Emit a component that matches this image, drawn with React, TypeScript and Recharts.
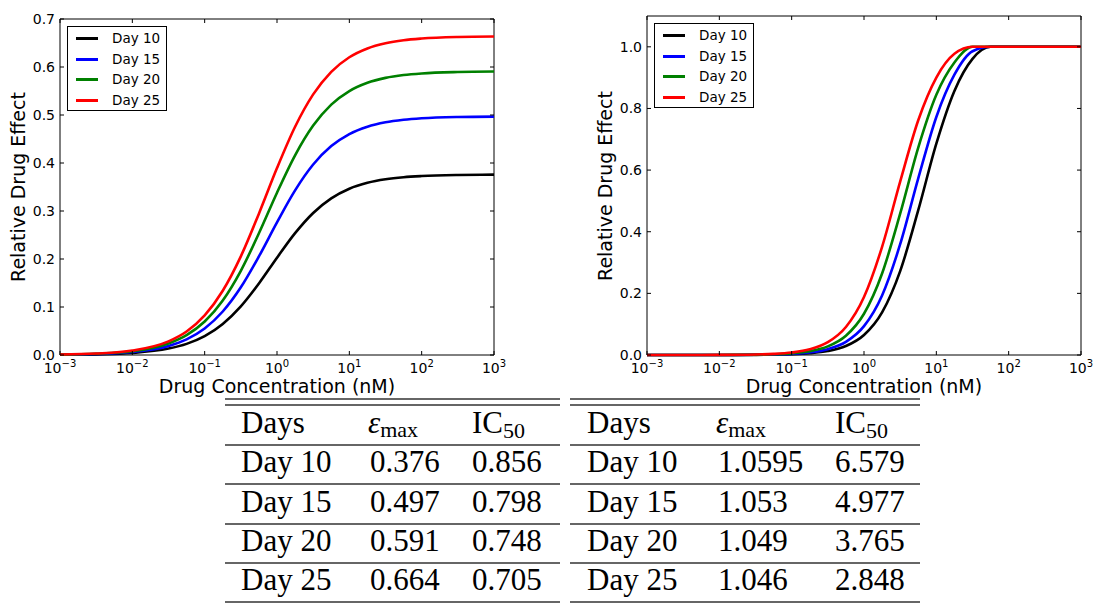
import { LineChart, Line, XAxis, YAxis, ReferenceArea } from "recharts";

// log10 of drug concentration (nM)
const logConc = [-3, -2.5, -2, -1.5, -1.25, -1, -0.75, -0.5, -0.25, 0, 0.25, 0.5, 0.75, 1, 1.25, 1.5, 1.75, 2, 2.5, 3];

const days = ["Day 10", "Day 15", "Day 20", "Day 25"];
const dayKeys = ["d10", "d15", "d20", "d25"];
const dayColors = ["#000000", "#0000ff", "#008000", "#ff0000"];

// left panel
const leftDay10 = [0.0004, 0.0014, 0.0043, 0.0134, 0.0232, 0.0393, 0.0647, 0.1014, 0.149, 0.2026, 0.2538, 0.2959, 0.3263, 0.3464, 0.3587, 0.3661, 0.3704, 0.3728, 0.375, 0.3757];
const leftDay15 = [0.0006, 0.002, 0.0062, 0.0189, 0.0327, 0.0553, 0.0906, 0.141, 0.2054, 0.2764, 0.343, 0.3968, 0.4352, 0.4603, 0.4757, 0.4848, 0.49, 0.4931, 0.4958, 0.4966];
const leftDay20 = [0.0008, 0.0025, 0.0078, 0.024, 0.0413, 0.0697, 0.1136, 0.1755, 0.2535, 0.3381, 0.416, 0.4779, 0.5216, 0.5499, 0.5672, 0.5773, 0.5832, 0.5866, 0.5896, 0.5906];
const leftDay25 = [0.0009, 0.003, 0.0093, 0.0285, 0.049, 0.0825, 0.1339, 0.2055, 0.2945, 0.3894, 0.4755, 0.5429, 0.59, 0.6203, 0.6387, 0.6495, 0.6558, 0.6593, 0.6625, 0.6635];

// right panel
const rightDay10 = [0, 0, 0.0001, 0.0005, 0.0011, 0.0024, 0.0056, 0.0128, 0.0291, 0.0648, 0.1382, 0.2722, 0.4698, 0.6858, 0.8568, 0.9609, 1.0, 1.0, 1.0, 1.0];
const rightDay15 = [0, 0, 0.0001, 0.0007, 0.0016, 0.0036, 0.0083, 0.019, 0.0428, 0.0936, 0.1933, 0.3594, 0.5731, 0.7723, 0.9095, 0.9855, 1.0, 1.0, 1.0, 1.0];
const rightDay20 = [0, 0, 0.0002, 0.001, 0.0024, 0.0054, 0.0124, 0.0281, 0.0626, 0.1338, 0.2644, 0.4585, 0.6729, 0.8442, 0.949, 1.0, 1.0, 1.0, 1.0, 1.0];
const rightDay25 = [0, 0.0001, 0.0003, 0.0015, 0.0035, 0.0081, 0.0184, 0.0415, 0.0908, 0.1881, 0.351, 0.5627, 0.7618, 0.9003, 0.9773, 1.0, 1.0, 1.0, 1.0, 1.0];

const xTicks = [-3, -2, -1, 0, 1, 2, 3];
const leftYTicks = [0, 0.1, 0.2, 0.3, 0.4, 0.5, 0.6, 0.7];
const rightYTicks = [0, 0.2, 0.4, 0.6, 0.8, 1.0];

// tables
const leftEmax = ["0.376", "0.497", "0.591", "0.664"];
const leftIC50 = ["0.856", "0.798", "0.748", "0.705"];
const rightEmax = ["1.0595", "1.053", "1.049", "1.046"];
const rightIC50 = ["6.579", "4.977", "3.765", "2.848"];

const SANS = "'DejaVu Sans', sans-serif";
const SERIF = "'Liberation Serif', serif";

function buildRows(series: number[][]) {
  return logConc.map((x, i) => {
    const row: any = { x };
    dayKeys.forEach((k, j) => (row[k] = series[j][i]));
    return row;
  });
}

const leftData = buildRows([leftDay10, leftDay15, leftDay20, leftDay25]);
const rightData = buildRows([rightDay10, rightDay15, rightDay20, rightDay25]);

type PanelProps = {
  left: number;
  top: number;
  data: any[];
  yMax: number;
  yTicks: number[];
  legendTop: number;
};

const CH_W = 510;
const CH_H = 400;
const Y_W = 60;
const PLOT_BOTTOM = 355;

function Panel({ left, top, data, yMax, yTicks, legendTop }: PanelProps) {
  const marginRight = 16;
  const plotLeft = Y_W;
  const plotRight = CH_W - marginRight;
  const plotTop = top;

  const XTick = (p: any) => {
    const x = p.x;
    const v = p.payload.value;
    return (
      <g>
        <line x1={x} x2={x} y1={PLOT_BOTTOM} y2={PLOT_BOTTOM - 4} stroke="#000" />
        <line x1={x} x2={x} y1={plotTop} y2={plotTop + 4} stroke="#000" />
        <text x={x} y={373} textAnchor="middle" fontFamily={SANS} fontSize={14} fill="#000">
          <tspan>10</tspan>
          <tspan dy={-6} fontSize={10}>{v < 0 ? "\u2212" + Math.abs(v) : String(v)}</tspan>
        </text>
      </g>
    );
  };

  const YTick = (p: any) => {
    const y = p.y;
    const v = p.payload.value;
    return (
      <g>
        <line x1={plotLeft} x2={plotLeft + 4} y1={y} y2={y} stroke="#000" />
        <line x1={plotRight} x2={plotRight - 4} y1={y} y2={y} stroke="#000" />
        <text x={plotLeft - 5} y={y} dy="0.36em" textAnchor="end" fontFamily={SANS} fontSize={14} fill="#000">
          {v.toFixed(1)}
        </text>
      </g>
    );
  };

  return (
    <div style={{ position: "absolute", left, top: 0, width: CH_W, height: CH_H }}>
      <LineChart
        width={CH_W}
        height={CH_H}
        data={data}
        margin={{ top: plotTop, right: marginRight, left: 0, bottom: 0 }}
      >
        <XAxis
          dataKey="x"
          type="number"
          domain={[-3, 3]}
          ticks={xTicks}
          height={CH_H - PLOT_BOTTOM}
          axisLine={false}
          tickLine={false}
          tick={XTick}
          interval={0}
        />
        <YAxis
          type="number"
          domain={[0, yMax]}
          ticks={yTicks}
          width={Y_W}
          axisLine={false}
          tickLine={false}
          tick={YTick}
          interval={0}
        />
        {dayKeys.map((k, i) => (
          <Line
            key={k}
            type="monotone"
            dataKey={k}
            stroke={dayColors[i]}
            strokeWidth={2.6}
            dot={false}
            isAnimationActive={false}
          />
        ))}
        <ReferenceArea x1={-3} x2={3} y1={0} y2={yMax} fill="none" stroke="#000" strokeWidth={1} ifOverflow="visible" />
      </LineChart>

      {/* legend */}
      <div
        style={{
          position: "absolute",
          left: plotLeft + 7,
          top: legendTop,
          width: 100,
          height: 85,
          border: "1px solid #000",
          background: "#fff",
          boxSizing: "border-box",
        }}
      >
        {days.map((d, i) => (
          <div key={d} style={{ position: "absolute", left: 0, top: 3 + i * 20.5, height: 16, width: 100 }}>
            <div style={{ position: "absolute", left: 8, top: 7, width: 22, height: 3, background: dayColors[i] }} />
            <div
              style={{
                position: "absolute",
                left: 44,
                top: 0,
                fontFamily: SANS,
                fontSize: 13.5,
                lineHeight: "16px",
                color: "#000",
                whiteSpace: "nowrap",
              }}
            >
              {d}
            </div>
          </div>
        ))}
      </div>

      {/* axis titles */}
      <div
        style={{
          position: "absolute",
          left: (plotLeft + plotRight) / 2,
          top: 386,
          transform: "translate(-50%, -50%)",
          fontFamily: SANS,
          fontSize: 19,
          whiteSpace: "nowrap",
          color: "#000",
        }}
      >
        Drug Concentration (nM)
      </div>
      <div
        style={{
          position: "absolute",
          left: 18,
          top: (plotTop + PLOT_BOTTOM) / 2,
          transform: "translate(-50%, -50%) rotate(-90deg)",
          fontFamily: SANS,
          fontSize: 19,
          whiteSpace: "nowrap",
          color: "#000",
        }}
      >
        Relative Drug Effect
      </div>
    </div>
  );
}

type TableProps = {
  x0: number;
  x1: number;
  cols: number[];
  emax: string[];
  ic50: string[];
};

const RULE = "#333";
const ruleYs = [399, 405, 445, 484, 524, 563, 602];
const rowBase = [472, 511.5, 551, 590];

function ParamTable({ x0, x1, cols, emax, ic50 }: TableProps) {
  return (
    <>
      {ruleYs.map((y, i) => (
        <line key={i} x1={x0} x2={x1} y1={y} y2={y} stroke={RULE} strokeWidth={1.5} />
      ))}
      <text x={cols[0]} y={433} fontFamily={SERIF} fontSize={31} fill="#000">Days</text>
      <text x={cols[1]} y={433} fontFamily={SERIF} fontSize={31} fill="#000">
        <tspan fontStyle="italic">ε</tspan>
        <tspan dy={4} fontSize={22}>max</tspan>
      </text>
      <text x={cols[2]} y={433} fontFamily={SERIF} fontSize={31} fill="#000">
        <tspan>IC</tspan>
        <tspan dy={5} fontSize={22}>50</tspan>
      </text>
      {days.map((d, i) => (
        <g key={d}>
          <text x={cols[0]} y={rowBase[i]} fontFamily={SERIF} fontSize={31} fill="#000">{d}</text>
          <text x={cols[1] + 2} y={rowBase[i]} fontFamily={SERIF} fontSize={31} fill="#000">{emax[i]}</text>
          <text x={cols[2]} y={rowBase[i]} fontFamily={SERIF} fontSize={31} fill="#000">{ic50[i]}</text>
        </g>
      ))}
    </>
  );
}

export default function App() {
  return (
    <div style={{ position: "absolute", left: 0, top: 0, width: 1102, height: 604, background: "#fff", overflow: "hidden" }}>
      <Panel left={0} top={19} data={leftData} yMax={0.7} yTicks={leftYTicks} legendTop={26} />
      <Panel left={587} top={16} data={rightData} yMax={1.1} yTicks={rightYTicks} legendTop={23} />
      <svg width={1102} height={604} style={{ position: "absolute", left: 0, top: 0, pointerEvents: "none" }}>
        <ParamTable x0={225} x1={560} cols={[241, 368, 472]} emax={leftEmax} ic50={leftIC50} />
        <ParamTable x0={570} x1={920} cols={[587, 716, 835]} emax={rightEmax} ic50={rightIC50} />
      </svg>
    </div>
  );
}
